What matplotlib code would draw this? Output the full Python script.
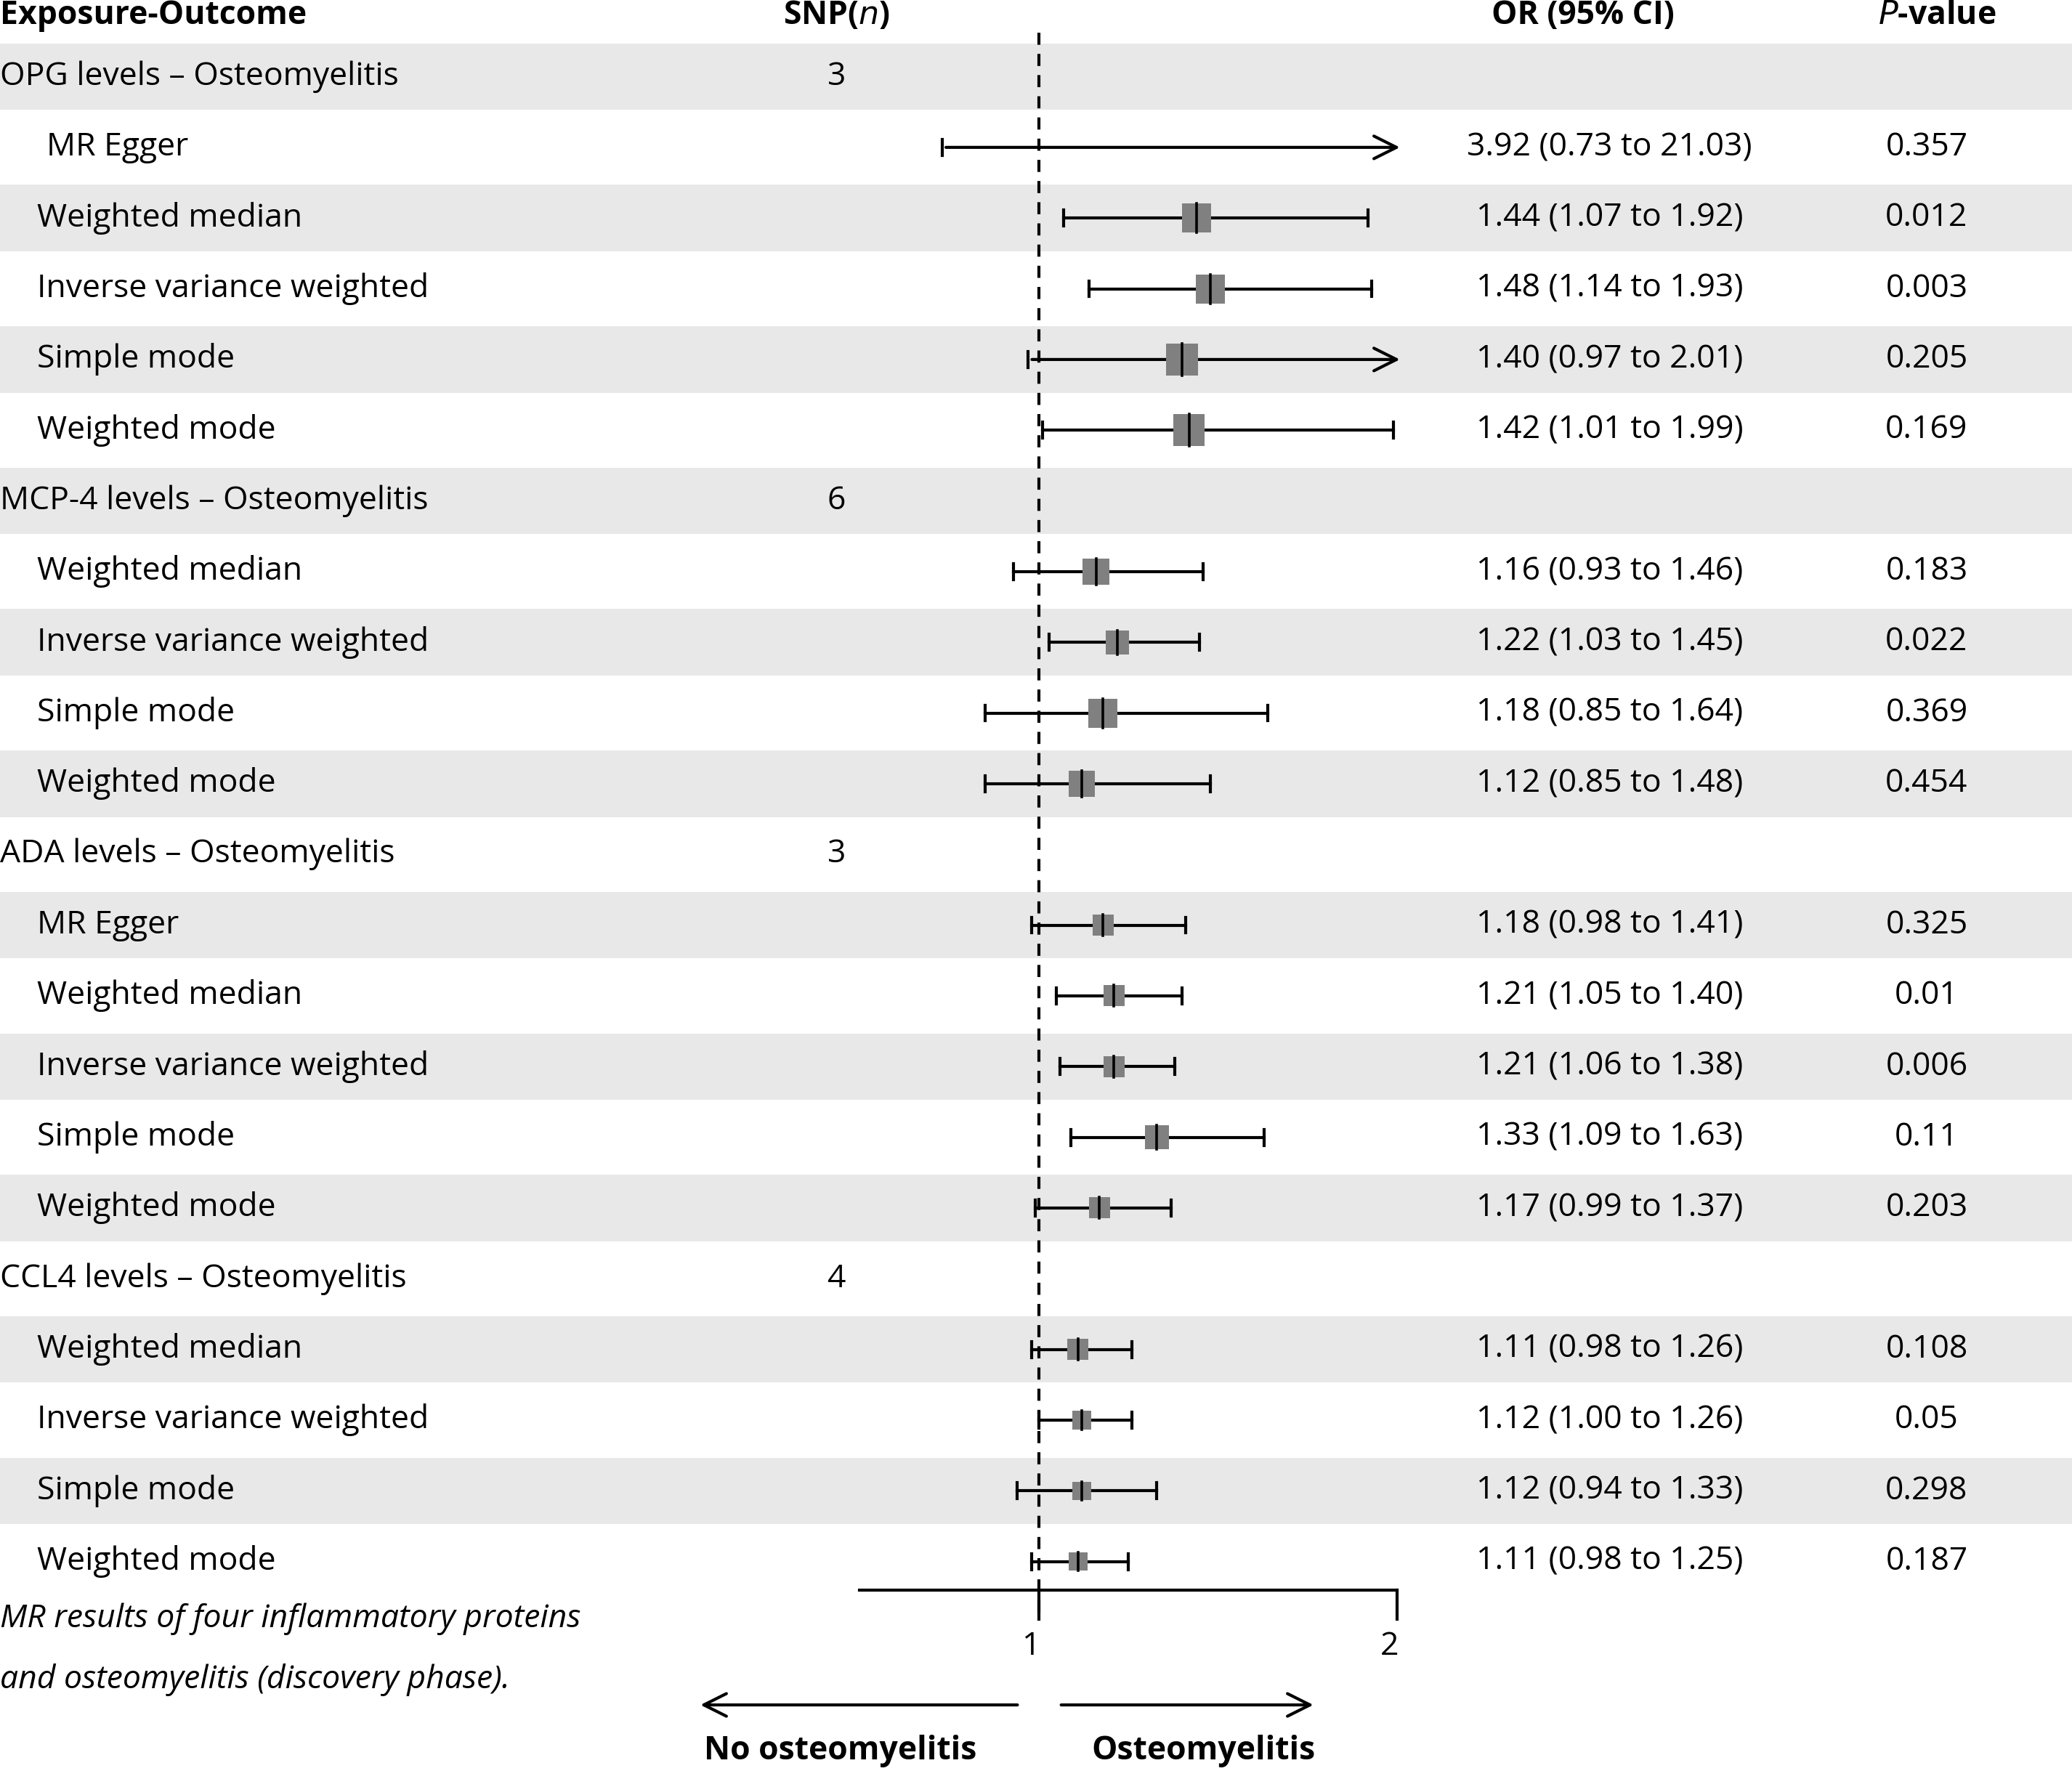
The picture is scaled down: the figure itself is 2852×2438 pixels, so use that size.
import matplotlib.pyplot as plt
from matplotlib.patches import Rectangle

plt.rcParams['font.family'] = ['Open Sans', 'DejaVu Sans']

groups = ["OPG levels \u2013 Osteomyelitis", "MCP-4 levels \u2013 Osteomyelitis",
          "ADA levels \u2013 Osteomyelitis", "CCL4 levels \u2013 Osteomyelitis"]
snps = ["3", "6", "3", "4"]
methods = [
    ["MR Egger", "Weighted median", "Inverse variance weighted", "Simple mode", "Weighted mode"],
    ["Weighted median", "Inverse variance weighted", "Simple mode", "Weighted mode"],
    ["MR Egger", "Weighted median", "Inverse variance weighted", "Simple mode", "Weighted mode"],
    ["Weighted median", "Inverse variance weighted", "Simple mode", "Weighted mode"],
]
est = [[3.92, 1.44, 1.48, 1.40, 1.42], [1.16, 1.22, 1.18, 1.12],
       [1.18, 1.21, 1.21, 1.33, 1.17], [1.11, 1.12, 1.12, 1.11]]
lo = [[0.73, 1.07, 1.14, 0.97, 1.01], [0.93, 1.03, 0.85, 0.85],
      [0.98, 1.05, 1.06, 1.09, 0.99], [0.98, 1.00, 0.94, 0.98]]
hi = [[21.03, 1.92, 1.93, 2.01, 1.99], [1.46, 1.45, 1.64, 1.48],
      [1.41, 1.40, 1.38, 1.63, 1.37], [1.26, 1.26, 1.33, 1.25]]
pvals = [["0.357", "0.012", "0.003", "0.205", "0.169"], ["0.183", "0.022", "0.369", "0.454"],
         ["0.325", "0.01", "0.006", "0.11", "0.203"], ["0.108", "0.05", "0.298", "0.187"]]
weights = [[0, 11, 11, 12, 12], [10, 9, 11, 10], [8, 8, 8, 9, 8], [8, 7, 7, 7]]

W, H = 1568, 1340
PX = 271.0      # pixels per OR unit (reference scale)
RY = 53.5       # pixels per row
X0 = 786        # pixel of OR=1
Y0 = 58         # pixel of row 0

fig = plt.figure(figsize=(14.26, 12.19), dpi=200)
ax = fig.add_axes([0, 0, 1, 1])
xmin, xmax = 1 - X0 / PX, 1 + (W - X0) / PX
ax.set_xlim(xmin, xmax)
ax.set_ylim((H - Y0) / RY, -Y0 / RY)
ax.axis('off')

def fx(px):
    return 1 + (px - X0) / PX

def fy(py):
    return (py - Y0) / RY

FS = 16
LW = 1.5
row = 0
for g in range(len(groups)):
    if row % 2 == 0:
        ax.add_patch(Rectangle((xmin, row - 0.47), xmax - xmin, 0.94, color='#e8e8e8', lw=0, zorder=0))
    ax.text(fx(0), row, groups[g], fontsize=FS, va='center', ha='left')
    ax.text(fx(633), row, snps[g], fontsize=FS, va='center', ha='center')
    row += 1
    for k in range(len(methods[g])):
        if row % 2 == 0:
            ax.add_patch(Rectangle((xmin, row - 0.47), xmax - xmin, 0.94, color='#e8e8e8', lw=0, zorder=0))
        indent = 35 if (g == 0 and k == 0) else 28
        ax.text(fx(indent), row, methods[g][k], fontsize=FS, va='center', ha='left')
        e, l, h = est[g][k], lo[g][k], hi[g][k]
        ax.text(fx(1218), row, f"{e:.2f} ({l:.2f} to {h:.2f})", fontsize=FS, va='center', ha='center')
        ax.text(fx(1458), row, pvals[g][k], fontsize=FS, va='center', ha='center')
        cap = 6 / RY
        ax.plot([l, l], [row - cap, row + cap], color='black', lw=LW, zorder=3)
        if h > 2:
            ax.annotate('', xy=(2.02, row), xytext=(l, row),
                        arrowprops=dict(arrowstyle='->', lw=LW, color='black', mutation_scale=28), zorder=3)
        else:
            ax.plot([l, h], [row, row], color='black', lw=LW, zorder=3)
            ax.plot([h, h], [row - cap, row + cap], color='black', lw=LW, zorder=3)
        hw = weights[g][k]
        if hw > 0:
            ax.add_patch(Rectangle((e - hw / PX, row - hw / RY), 2 * hw / PX, 2 * hw / RY,
                                   color='#808080', lw=0, zorder=4))
            ax.plot([e, e], [row - hw / RY, row + hw / RY], color='black', lw=1.3, zorder=5)
        row += 1

hy = fy(12)
ax.text(fx(0), hy, "Exposure-Outcome", fontsize=FS, fontweight='bold', va='center', ha='left')
ax.text(fx(633), hy, "SNP($\\it{n}$)", fontsize=FS, fontweight='bold', va='center', ha='center')
ax.text(fx(1198), hy, "OR (95% CI)", fontsize=FS, fontweight='bold', va='center', ha='center')
ax.text(fx(1466), hy, "$\\bf{\\it{P}}$-value", fontsize=FS, fontweight='bold', va='center', ha='center')

ax.plot([1, 1], [fy(25), fy(1225)], color='black', lw=LW, ls=(0, (4, 3)), zorder=2)
ay = fy(1203)
ax.plot([0.5, 2], [ay, ay], color='black', lw=LW)
for t in [1, 2]:
    ax.plot([t, t], [ay, fy(1225)], color='black', lw=LW)
    ax.text(t - 0.02, fy(1246), str(t), fontsize=FS, va='center', ha='center')

ax.annotate('', xy=(fx(527), fy(1290)), xytext=(fx(773), fy(1290)),
            arrowprops=dict(arrowstyle='->', lw=LW, color='black', mutation_scale=28))
ax.annotate('', xy=(fx(997), fy(1290)), xytext=(fx(800), fy(1290)),
            arrowprops=dict(arrowstyle='->', lw=LW, color='black', mutation_scale=28))
ax.text(fx(636), fy(1325), "No osteomyelitis", fontsize=FS, fontweight='bold', va='center', ha='center')
ax.text(fx(911), fy(1325), "Osteomyelitis", fontsize=FS, fontweight='bold', va='center', ha='center')

ax.text(fx(0), fy(1225), "MR results of four inflammatory proteins", fontsize=FS, style='italic',
        va='center', ha='left')
ax.text(fx(0), fy(1271), "and osteomyelitis (discovery phase).", fontsize=FS, style='italic',
        va='center', ha='left')

fig.savefig("out.png", dpi=200)
